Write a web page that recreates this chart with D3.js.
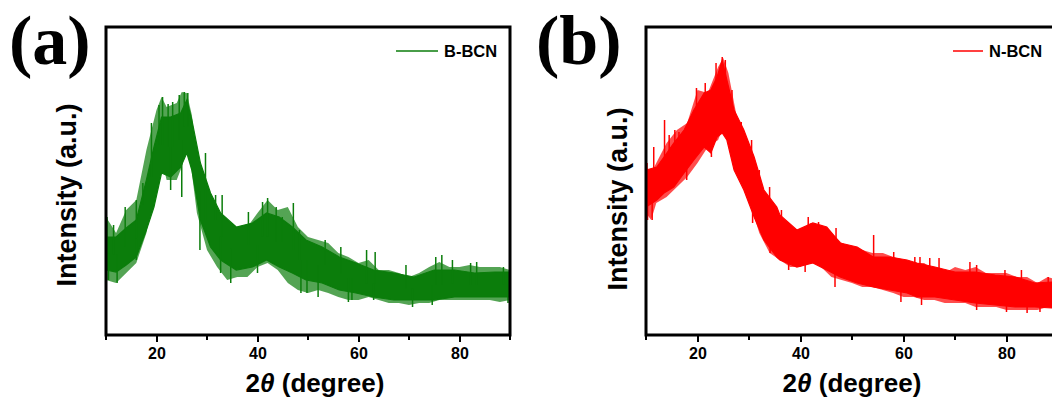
<!DOCTYPE html>
<html>
<head>
<meta charset="utf-8">
<script src="https://cdn.jsdelivr.net/npm/d3@7"></script>
<style>
  body { margin: 0; background: #fff; }
  svg { display: block; }
  text { font-family: Arial, "Liberation Sans", sans-serif; font-weight: bold; }
</style>
</head>
<body>
<svg id="chart" width="1052" height="406"></svg>
<script>
// x axis ticks (2theta, degree)
var majorTicks = [20, 40, 60, 80];
var minorTicks = [10, 30, 50, 70, 90];

// B-BCN: dense core of the noisy trace (a.u.)
var bDeg   = [10, 12, 14, 16, 18, 19.5, 21, 22.8, 24.8, 26, 27, 28.7, 30.7, 32.7, 35.8, 39, 41.8, 44.3, 46.9, 49.6, 52.8, 56.2, 59.5, 63, 67, 71, 75, 79, 83, 87, 90];
var bUpper = [490, 490, 535, 575, 775, 940, 1090, 1090, 1110, 1175, 1075, 860, 710, 610, 540, 560, 610, 590, 540, 475, 440, 390, 360, 325, 310, 290, 325, 325, 310, 315, 315];
var bLower = [325, 315, 350, 390, 525, 640, 810, 790, 840, 910, 825, 575, 440, 375, 325, 340, 375, 340, 310, 275, 260, 225, 210, 190, 175, 175, 175, 190, 190, 190, 190];
// B-BCN: outer reach of the noise
var bOutDeg = [10, 12, 14, 16, 18, 20, 21, 22, 24, 25, 26, 27, 28, 30, 32, 34, 36, 38, 40, 42, 44, 46, 48, 50, 52, 54, 56, 58, 60, 62, 64, 66, 68, 70, 72, 74, 76, 78, 80, 82, 84, 86, 88, 90];
var bOutHi  = [590, 510, 625, 675, 925, 1125, 1190, 1140, 1160, 1215, 1210, 1100, 890, 675, 590, 575, 525, 540, 610, 675, 625, 640, 540, 490, 475, 460, 410, 390, 360, 375, 325, 325, 310, 290, 310, 340, 365, 340, 340, 350, 340, 340, 340, 325];
var bOutLo  = [275, 260, 310, 360, 510, 790, 890, 775, 775, 840, 960, 810, 610, 425, 340, 275, 290, 290, 340, 360, 325, 260, 225, 210, 225, 210, 190, 175, 175, 190, 175, 160, 160, 150, 160, 160, 175, 175, 175, 175, 175, 175, 165, 175];
// B-BCN: strongest single spikes [deg, intensity]
var bSpikesUp = [[10.2, 590], [11.5, 550], [13.8, 640], [16, 675], [17.3, 760], [19, 1060], [20.5, 1150], [21.2, 1190], [22.3, 1155], [23.2, 1165], [24.5, 1200], [25.5, 1215], [26.2, 1210], [29.7, 910], [31.7, 700], [33, 700], [38.2, 615], [41, 665], [42, 685], [43.7, 640], [44.9, 590], [47.1, 660], [48.3, 525], [53.4, 475], [56.5, 440], [61.6, 425], [63.3, 415], [69.4, 350], [75.3, 390], [76.5, 400], [78.6, 375], [82.2, 360], [83.4, 365], [88.7, 340]];
var bSpikesDown = [[10.5, 275], [12.2, 260], [16, 375], [22.8, 725], [25, 690], [28.6, 425], [32.7, 310], [34.7, 260], [40, 310], [48.6, 210], [49.8, 210], [52, 190], [58, 165], [58.7, 175], [63, 175], [70.7, 140], [74.6, 150], [89.6, 160]];

// N-BCN: dense core
var nDeg   = [10, 12.1, 13.5, 15.4, 17.4, 19.3, 21.3, 22.6, 23.8, 24.8, 25.7, 27.1, 29, 31, 32.9, 35.4, 36, 39.3, 42.4, 45.1, 47.7, 51, 54.1, 57.4, 60.7, 62.6, 66.1, 70, 73.9, 77.8, 81.7, 85.5, 88.8, 90];
var nUpper = [825, 840, 890, 960, 1025, 1125, 1210, 1225, 1290, 1375, 1275, 1125, 1025, 890, 725, 640, 600, 525, 560, 540, 460, 440, 390, 390, 375, 360, 340, 315, 315, 300, 290, 260, 265, 265];
var nLower = [640, 675, 710, 740, 810, 875, 940, 910, 990, 1010, 975, 825, 725, 590, 475, 390, 375, 340, 360, 325, 290, 260, 240, 225, 210, 190, 190, 175, 160, 150, 140, 140, 135, 135];
// N-BCN: outer reach of the noise
var nOutDeg = [10, 11, 12, 14, 16, 18, 20, 22, 24, 25, 26, 28, 30, 32, 34, 36, 38, 40, 42, 44, 46, 48, 50, 52, 54, 56, 58, 60, 62, 64, 66, 68, 70, 72, 74, 76, 78, 80, 82, 84, 86, 88, 90];
var nOutHi  = [840, 810, 860, 960, 1025, 1060, 1225, 1210, 1340, 1385, 1310, 1040, 890, 710, 625, 575, 525, 525, 560, 540, 510, 460, 440, 425, 410, 410, 390, 375, 360, 360, 325, 310, 340, 325, 340, 310, 310, 310, 290, 290, 260, 290, 275];
var nOutLo  = [610, 575, 660, 690, 740, 790, 860, 940, 975, 1040, 990, 825, 675, 510, 410, 375, 340, 340, 375, 340, 290, 275, 260, 240, 240, 225, 210, 190, 190, 175, 175, 160, 160, 160, 140, 140, 140, 125, 125, 125, 125, 140, 135];
var nSpikesUp = [[10.2, 860], [11.5, 940], [13.6, 1075], [14.5, 1000], [15.6, 1025], [16.4, 1015], [19.8, 1235], [21.5, 1260], [23.6, 1360], [24.8, 1390], [25.4, 1375], [26.7, 1225], [28.5, 1065], [30.5, 975], [32, 825], [34, 740], [36.3, 625], [41.5, 590], [43.5, 565], [46.9, 535], [54.2, 500], [58.1, 415], [62.2, 390], [63.2, 390], [65.1, 385], [66.9, 385], [72.9, 365], [74.2, 350], [79.7, 325], [82.9, 325], [88.1, 290]];
var nSpikesDown = [[10.3, 575], [11.2, 575], [17.9, 775], [22.7, 890], [26.3, 950], [30.7, 560], [34.1, 410], [37.7, 325], [40.9, 315], [46.7, 240], [59.5, 165], [63.5, 150], [74.2, 125], [80, 115], [84, 110], [86.5, 115]];

var svg = d3.select('#chart');

function drawPanel(p) {
  var x = d3.scaleLinear().domain([10, 90]).range([p.left, p.right]);
  var y = d3.scaleLinear().domain([0, 1540]).range([p.bottom, p.top]);
  var g = svg.append('g');

  var clipId = 'clip-' + p.name;
  g.append('clipPath').attr('id', clipId)
    .append('rect')
    .attr('x', p.left).attr('y', p.top)
    .attr('width', p.right - p.left).attr('height', p.bottom - p.top);

  var band = p.deg.map(function(d, i) { return { deg: d, hi: p.upper[i], lo: p.lower[i] }; });
  var outer = p.outDeg.map(function(d, i) { return { deg: d, hi: p.outHi[i], lo: p.outLo[i] }; });
  var plot = g.append('g').attr('clip-path', 'url(#' + clipId + ')');

  var area = d3.area()
    .x(function(d) { return x(d.deg); })
    .y0(function(d) { return y(d.lo); })
    .y1(function(d) { return y(d.hi); });

  // fuzzy outer reach, then the solid core
  plot.append('path')
    .datum(outer)
    .attr('d', area)
    .attr('fill', p.color)
    .attr('fill-opacity', 0.7);

  plot.append('path')
    .datum(band)
    .attr('d', area)
    .attr('fill', p.color)
    .attr('stroke', p.color)
    .attr('stroke-width', 1.2);

  // spikes start from middle of the nearest band sample
  var bisect = d3.bisector(function(d) { return d.deg; }).center;
  function mid(deg) {
    var b = band[bisect(band, deg)];
    return (b.hi + b.lo) / 2;
  }
  plot.selectAll('line.sp')
    .data(p.spikesUp.concat(p.spikesDown))
    .enter().append('line')
    .attr('class', 'sp')
    .attr('x1', function(d) { return x(d[0]); })
    .attr('x2', function(d) { return x(d[0]); })
    .attr('y1', function(d) { return y(mid(d[0])); })
    .attr('y2', function(d) { return y(d[1]); })
    .attr('stroke', p.color)
    .attr('stroke-width', 1.5);

  // frame
  g.append('rect')
    .attr('x', p.left).attr('y', p.top)
    .attr('width', p.right - p.left).attr('height', p.bottom - p.top)
    .attr('fill', 'none')
    .attr('stroke', '#000')
    .attr('stroke-width', 3);

  // x axis
  var ax = g.append('g').attr('transform', 'translate(0,' + (p.bottom + 1) + ')');
  ax.call(d3.axisBottom(x).tickValues(majorTicks).tickSize(6).tickPadding(6).tickFormat(d3.format('d')));
  ax.select('.domain').remove();
  ax.selectAll('.tick line').attr('stroke', '#000').attr('stroke-width', 2);
  ax.selectAll('.tick text')
    .attr('font-size', 16)
    .attr('font-family', 'Arial, "Liberation Sans", sans-serif')
    .attr('font-weight', 'bold')
    .attr('fill', '#000');
  ax.selectAll('line.minor')
    .data(minorTicks)
    .enter().append('line')
    .attr('class', 'minor')
    .attr('x1', function(d) { return x(d); })
    .attr('x2', function(d) { return x(d); })
    .attr('y1', 0).attr('y2', 4)
    .attr('stroke', '#000').attr('stroke-width', 2);

  // x title
  var xt = g.append('text')
    .attr('x', p.xTitleX).attr('y', 392)
    .attr('text-anchor', 'middle')
    .attr('font-size', 26)
    .attr('fill', '#000');
  xt.append('tspan').text('2');
  xt.append('tspan').attr('font-style', 'italic').text('\u03b8');
  xt.append('tspan').text(' (degree)');

  // y title
  g.append('text')
    .attr('transform', 'translate(' + p.yTitleX + ',' + p.yTitleY + ') rotate(-90)')
    .attr('text-anchor', 'middle')
    .attr('font-size', 27)
    .attr('fill', '#000')
    .text('Intensity (a.u.)');

  // panel letter
  g.append('text')
    .attr('x', p.letterX).attr('y', 64)
    .style('font-family', '"Times New Roman", "Liberation Serif", serif')
    .attr('font-size', 70)
    .attr('fill', '#000')
    .text(p.letter);

  // legend
  g.append('line')
    .attr('x1', p.legendX).attr('x2', p.legendX + p.legendLen)
    .attr('y1', 51).attr('y2', 51)
    .attr('stroke', p.color).attr('stroke-width', 1.5);
  g.append('text')
    .attr('x', p.legendX + p.legendLen + 6).attr('y', 57)
    .attr('font-size', 16.5)
    .attr('fill', '#000')
    .text(p.name);
}

drawPanel({
  name: 'B-BCN', letter: '(a)', color: '#0b7d0b',
  left: 106, right: 510, top: 27, bottom: 335,
  deg: bDeg, upper: bUpper, lower: bLower,
  outDeg: bOutDeg, outHi: bOutHi, outLo: bOutLo,
  spikesUp: bSpikesUp, spikesDown: bSpikesDown,
  xTitleX: 315, yTitleX: 76, yTitleY: 195, letterX: 9,
  legendX: 396, legendLen: 42
});

drawPanel({
  name: 'N-BCN', letter: '(b)', color: '#ff0000',
  left: 646, right: 1058, top: 27, bottom: 335,
  deg: nDeg, upper: nUpper, lower: nLower,
  outDeg: nOutDeg, outHi: nOutHi, outLo: nOutLo,
  spikesUp: nSpikesUp, spikesDown: nSpikesDown,
  xTitleX: 852, yTitleX: 627, yTitleY: 199, letterX: 536,
  legendX: 953, legendLen: 30
});
</script>
</body>
</html>
